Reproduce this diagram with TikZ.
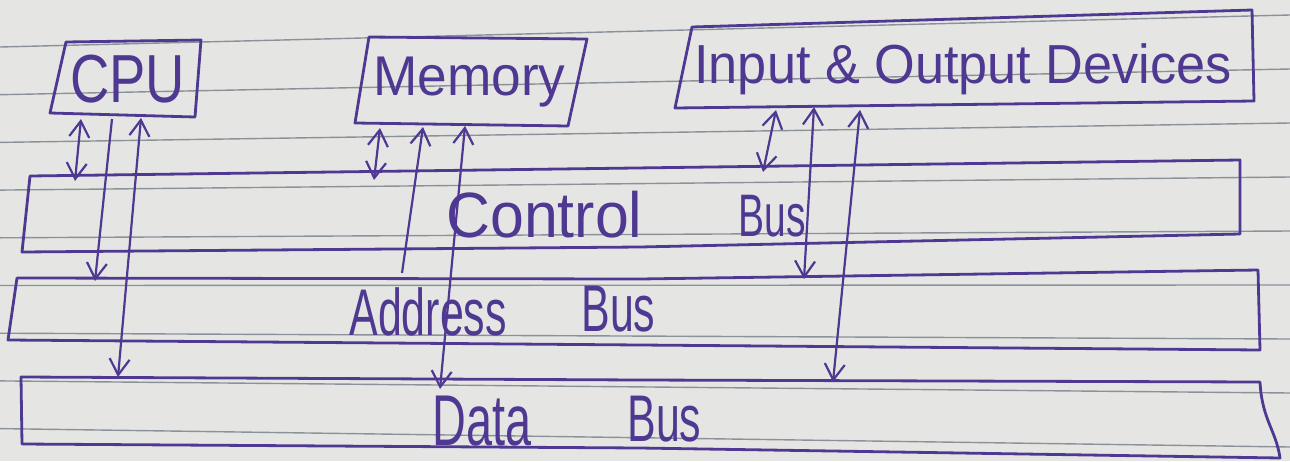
\documentclass[tikz,border=0pt]{standalone}
\usepackage{fontspec}
\setmainfont[FakeStretch=0.8]{Liberation Sans}
\newfontfamily\wide[FakeStretch=0.95]{Liberation Sans}
\newfontfamily\narrow[FakeStretch=0.65]{Liberation Sans}
\usetikzlibrary{arrows.meta}
\definecolor{ink}{RGB}{78,56,145}
\definecolor{paper}{RGB}{229,230,227}
\definecolor{rulegray}{RGB}{138,146,152}
\begin{document}
\begin{tikzpicture}[x=0.5pt,y=-0.5pt,
  >={Straight Barb[length=8pt,width=10pt]},
  box/.style={draw=ink,line width=1.4pt,line join=round},
  link/.style={draw=ink,line width=1.1pt},
  two/.style={link,<->},
  one/.style={link,->},
  lbl/.style={text=ink,inner sep=0pt,anchor=base west},
  ruled/.style={draw=rulegray,line width=0.7pt}]
\useasboundingbox (0,0) rectangle (1290,461);
\fill[paper] (0,0) rectangle (1290,461);
\begin{scope}
\clip (0,0) rectangle (1290,461);
\foreach \i in {0,...,8} \draw[ruled] (0,{47+47.7*\i}) -- (1290,{15+54*\i});
\end{scope}

% boxes
\draw[box] (66,42) -- (201,40) -- (195,117) -- (50,113) -- cycle;
\draw[box] (369,37) -- (587,39) -- (568,126) -- (355,123) -- cycle;
\draw[box] (692,27) -- (1252,10) -- (1254,101) -- (675,108) -- cycle;
\draw[box] (30,176) -- (1240,160) -- (1240,234) -- (640,247) -- (22,252) -- cycle;
\draw[box] (17,278) -- (640,279) -- (1258,270) -- (1260,350) -- (640,345) -- (8,340) -- cycle;
\draw[box] (21,377) -- (640,380) -- (1260,382) .. controls (1262,420) and (1276,430) .. (1280,458) -- (640,448) -- (22,444) -- cycle;

% labels
\node[lbl,font=\fontsize{34}{40}\selectfont] (cpu) at (70,102) {CPU};
\node[lbl,font=\wide\fontsize{28}{34}\selectfont] (mem) at (373,95) {Memory};
\node[lbl,font=\wide\fontsize{27.5}{33}\selectfont] (io) at (694,83) {Input \& Output Devices};
\node[lbl,font=\wide\fontsize{32}{38}\selectfont] (ctl) at (446,237) {Control};
\node[lbl,font=\narrow\fontsize{30}{36}\selectfont] (ctlbus) at (738,236) {Bus};
\node[lbl,font=\narrow\fontsize{33}{38}\selectfont] (addr) at (349,335) {Address};
\node[lbl,font=\narrow\fontsize{33}{38}\selectfont] (addrbus) at (581,331) {Bus};
\node[lbl,font=\narrow\fontsize{36}{40}\selectfont] (data) at (432,445) {Data};
\node[lbl,font=\narrow\fontsize{33}{38}\selectfont] (databus) at (627,441) {Bus};

% connector end points
\coordinate (cpuA) at (81,119);  \coordinate (ctlA) at (75,181);
\coordinate (cpuB) at (112,119); \coordinate (adrB) at (95,281);
\coordinate (cpuC) at (141,118); \coordinate (datC) at (118,377);
\coordinate (memA) at (380,128); \coordinate (ctlM) at (374,180);
\coordinate (memB) at (423,127); \coordinate (adrM) at (402,273);
\coordinate (memC) at (465,126); \coordinate (datM) at (440,389);
\coordinate (ioA) at (776,110);  \coordinate (ctlI) at (763,172);
\coordinate (ioB) at (814,107);  \coordinate (adrI) at (804,279);
\coordinate (ioC) at (860,110);  \coordinate (datI) at (833,382);

% connectors
\draw[two] (cpuA) -- (ctlA);
\draw[one] (cpuB) -- (adrB);
\draw[two] (cpuC) -- (datC);
\draw[two] (memA) -- (ctlM);
\draw[one] (adrM) -- (memB);
\draw[two] (memC) -- (datM);
\draw[two] (ioA) -- (ctlI);
\draw[two] (ioB) -- (adrI);
\draw[two] (ioC) -- (datI);
\end{tikzpicture}
\end{document}
